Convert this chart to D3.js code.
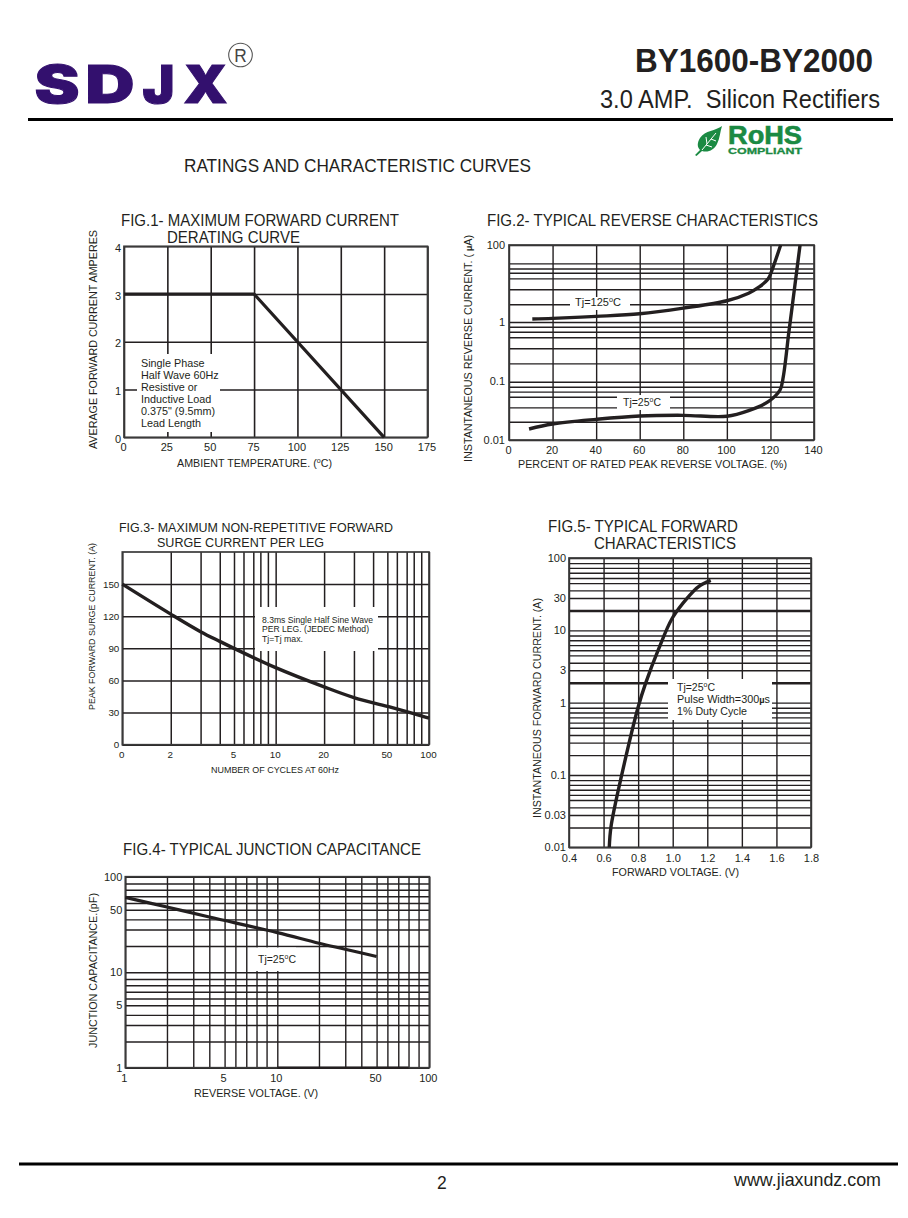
<!DOCTYPE html>
<html><head><meta charset="utf-8">
<script src="https://cdn.jsdelivr.net/npm/d3@7"></script>
<style>
html,body{margin:0;padding:0;background:#fff}
svg{display:block}
text{font-family:"Liberation Sans",Arial,sans-serif;fill:#231f20}
</style></head><body><div id="c"></div>
<script>
// ---------- data ----------
const paperMinor = [1.88,2.8,3.57,4.5,5.3,6.25,7.3,8.5];
const surgeMinor = [2.07,3.24,4.32,5.35,6.17,7.15,7.95,8.9];
const decades = (starts, minor) => starts.flatMap(s => [s, ...minor.map(m => s*m)]);

const fig1X = [0,25,50,75,100,125,150,175];
const fig1Y = [0,1,2,3,4];
const fig1Curve = [[0,3],[75,3],[150,0]];

const fig2X = [0,20,40,60,80,100,120,140];
const fig2YGrid = [100,33.3,24.6,19,13.6,7.06,2.88,1,0.834,0.688,0.554,0.363,0.203,0.1,0.082,0.0676,0.0553,0.0363,0.0206,0.01];
const fig2YTicks = [100,1,0.1,0.01];
const fig2YLabels = ["100","1","0.1","0.01"];
const fig2Hot = [[10.7,1.196],[20,1.24],[40,1.40],[60,1.64],[80,2.30],[100,3.56],[110,5.6],[114.5,7.9],[119,13.2],[121.3,27.5],[124.7,100]];
const fig2Cold = [[9.2,0.01545],[20,0.0188],[40,0.0226],[60,0.0258],[80,0.0265],[100,0.0255],[110,0.0318],[119,0.0454],[124.4,0.072],[125.9,0.121],[128.4,0.653],[129.07,1],[133.6,100]];

const fig3XGrid = decades([1,10], surgeMinor).concat([100]);
const fig3XTicks = [1,2.07,5.35,10,20.7,53.5,100];
const fig3XLabels = ["0","2","5","10","20","50","100"];
const fig3Y = [0,30,60,90,120,150];
const fig3Curve = [[1,150],[2.07,122],[3.24,105.6],[4.32,96.5],[5.35,90],[10,72],[20.7,54],[32.4,44],[53.5,35.8],[79.5,29],[100,24.8]];

const fig4XGrid = decades([1,10], paperMinor).concat([100]);
const fig4YGrid = fig4XGrid;
const fig4XTicks = [1,4.5,10,45,100];
const fig4XLabels = ["1","5","10","50","100"];
const fig4YTicks = [100,45,10,4.5,1];
const fig4YLabels = ["100","50","10","5","1"];
const fig4Curve = [[1,60.7],[1.88,48.1],[3.57,37.8],[10,26],[18.8,20.1],[28,17.4],[45,14.6]];

const fig5X = [0.4,0.6,0.8,1.0,1.2,1.4,1.6,1.8];
const fig5XLabels = ["0.4","0.6","0.8","1.0","1.2","1.4","1.6","1.8"];
const fig5YGrid = decades([0.01,0.1,1,10], paperMinor).concat([100]);
const fig5Heavy = [18.8,1.88];
const fig5YTicks = [100,28,10,2.8,1,0.1,0.028,0.01];
const fig5YLabels = ["100","30","10","3","1","0.1","0.03","0.01"];
const fig5Curve = [[0.633,0.01],[0.643,0.0193],[0.705,0.1],[0.801,0.885],[0.8435,1.86],[0.917,5.4],[0.998,14.8],[1.09,29],[1.148,40],[1.22,49]];

// ---------- helpers ----------
const svg = d3.select("#c").append("svg").attr("width",908).attr("height",1218);
const INK = "#231f20";
const smooth = d3.curveCatmullRom.alpha(0.5);

function label(parent, x, y, parts, size, len, opt={}){
  const t = parent.append("text").attr("x",x).attr("y",y).attr("font-size",size)
    .attr("xml:space","preserve").style("white-space","pre");
  if(opt.weight) t.attr("font-weight",opt.weight);
  if(opt.family) t.style("font-family",opt.family);
  if(opt.fill) t.style("fill",opt.fill);
  if(opt.rotate) t.attr("transform",`rotate(-90 ${x} ${y})`);
  if(len){ t.attr("textLength",len).attr("lengthAdjust","spacingAndGlyphs"); }
  (Array.isArray(parts)?parts:[parts]).forEach(p=>{
    if(typeof p==="string") t.append("tspan").text(p);
    else if(p.bold) t.append("tspan").attr("font-weight","bold").attr("font-size",size*0.85).text(p.t);
    else t.append("tspan").attr("dy",p.sup?-size*0.35:size*0.35).attr("font-size",p.sup?size*0.66:size).text(p.t);
  });
  return t;
}
const deg = [{t:"o",sup:true},{t:"C",sup:false}];
const micro = {t:"\u00B5",bold:true};

function chart(o){
  const g = svg.append("g");
  const xv = o.xv||(d=>d), yv = o.yv||(d=>d);
  const [x0,x1]=o.x.range(), y1=o.y.range()[0], y0=o.y.range()[o.y.range().length-1];
  const w=x1-x0, h=y1-y0;
  const gx=g.append("g").attr("transform",`translate(0,${y1})`)
    .call(d3.axisBottom(o.x).tickValues(o.xGrid.map(xv)).tickSize(-h).tickFormat(""));
  const gy=g.append("g").attr("transform",`translate(${x0},0)`)
    .call(d3.axisLeft(o.y).tickValues(o.yGrid.map(yv)).tickSize(-w).tickFormat(""));
  [gx,gy].forEach(a=>{a.select(".domain").remove();a.selectAll("line").attr("stroke",INK).attr("stroke-width",o.gridW||1.4);});
  if(o.heavy) gy.selectAll("line").filter(d=>o.heavy.some(v=>Math.abs(v-d)<1e-9)).attr("stroke-width",2.4);
  g.append("rect").attr("x",x0).attr("y",y0).attr("width",w).attr("height",h)
    .attr("fill","none").attr("stroke","#3a3a3a").attr("stroke-width",1.7);
  (o.boxes||[]).forEach(b=>g.append("rect").attr("x",b[0]).attr("y",b[1]).attr("width",b[2]-b[0]).attr("height",b[3]-b[1]).attr("fill","#fff"));
  (o.curves||[]).forEach(c=>{
    g.append("path").attr("fill","none").attr("stroke",INK).attr("stroke-width",c.w||3.4)
      .attr("stroke-linejoin","round")
      .attr("d",d3.line().x(d=>o.x(xv(d[0]))).y(d=>o.y(yv(d[1]))).curve(c.curve||smooth)(c.data));
  });
  const ax=g.append("g").attr("transform",`translate(${o.xShift||0},${y1})`)
    .call(d3.axisBottom(o.x).tickValues(o.xTicks.map(xv)).tickSize(0).tickPadding(o.xPad)
      .tickFormat((d,i)=>(o.xLabels||o.xTicks)[i]));
  const ay=g.append("g").attr("transform",`translate(${x0},${o.yShift||0})`)
    .call(d3.axisLeft(o.y).tickValues(o.yTicks.map(yv)).tickSize(0).tickPadding(o.yPad||3)
      .tickFormat((d,i)=>(o.yLabels||o.yTicks)[i]));
  [ax,ay].forEach(a=>{a.select(".domain").remove();a.selectAll("text").attr("font-size",o.tickSize)
    .attr("font-family",'"Liberation Sans",Arial,sans-serif').style("fill",INK);});
  return g;
}

// ---------- page furniture ----------
svg.append("rect").attr("width",908).attr("height",1218).attr("fill","#fff");
const purple="#33106e";
[["S",34,46],["D",85,50],["J",142,33],["X",183,45]].forEach(l=>{
  label(svg,l[1]+0.5,102.5,l[0],52,l[2]-1,{weight:900,fill:purple,family:"Inter,'Liberation Sans',sans-serif"})
    .style("stroke",purple).style("stroke-width",1).style("stroke-linejoin","miter");
});
svg.append("circle").attr("cx",240.5).attr("cy",55).attr("r",11.8).attr("fill","none").attr("stroke","#555").attr("stroke-width",1.1);
label(svg,234.3,62,"R",19,12.5,{fill:"#444"});

label(svg,635,71.5,"BY1600-BY2000",32.5,238,{weight:"bold"});
label(svg,600,108,"3.0 AMP.  Silicon Rectifiers",26,280);
svg.append("line").attr("x1",28).attr("x2",893).attr("y1",119.5).attr("y2",119.5).attr("stroke","#000").attr("stroke-width",3);

// RoHS mark
const green="#1b8a43";
svg.append("path").attr("fill",green).attr("d","M722,126 C716,131 705,130 700,138 C697,143 697,147 700,150 L695,155 L696.5,156 L702,151 C708,153 714,150 717,144 C720,138 720,132 722,126 Z");
svg.append("path").attr("fill","none").attr("stroke","#fff").attr("stroke-width",1).attr("d","M702,150 L716,133 M707,144 L706,137 M711,139 L716,141 M706,145 L712,147");
label(svg,728,144,"RoHS",25,74,{weight:"bold",fill:green}).style("stroke",green).style("stroke-width",0.6);
label(svg,728,153.5,"COMPLIANT",9,74,{weight:"bold",fill:green}).style("stroke",green).style("stroke-width",0.3);

label(svg,184,172,"RATINGS AND CHARACTERISTIC CURVES",18,347);

svg.append("line").attr("x1",19).attr("x2",898).attr("y1",1164).attr("y2",1164).attr("stroke","#000").attr("stroke-width",3);
label(svg,437,1189,"2",17.5);
label(svg,734,1186,"www.jiaxundz.com",18.5,147);

// ---------- FIG 1 ----------
chart({x:d3.scaleLinear().domain([0,175]).range([124,427.5]),
  y:d3.scaleLinear().domain([0,4]).range([437.3,246.3]),
  xGrid:fig1X,yGrid:fig1Y,xTicks:fig1X,yTicks:fig1Y,xPad:6,yPad:3,xShift:-1,yShift:1.5,tickSize:11,gridW:1.6,
  boxes:[[137,354,220,432]],
  curves:[{data:fig1Curve,curve:d3.curveLinear,w:3.2}]});
label(svg,121,226,"FIG.1- MAXIMUM FORWARD CURRENT",15.6,278);
label(svg,167,243,"DERATING CURVE",15.6,133);
label(svg,97,449,"AVERAGE FORWARD CURRENT AMPERES",11.5,219,{rotate:true});
label(svg,177,467,["AMBIENT TEMPERATURE. (",...deg,")"],10.8,155);
["Single Phase","Half Wave 60Hz","Resistive or","Inductive Load",'0.375" (9.5mm)',"Lead Length"].forEach((s,i)=>
  label(svg,141,367+i*12,s,10.8));

// ---------- FIG 2 ----------
chart({x:d3.scaleLinear().domain([0,140]).range([509,814]),
  y:d3.scaleLinear().domain([-2,-1,0,2]).range([440,381.7,322,245]),
  yv:Math.log10,
  xGrid:fig2X,yGrid:fig2YGrid,xTicks:fig2X,yTicks:fig2YTicks,yLabels:fig2YLabels,xPad:6,yPad:4,xShift:-1,yShift:-0.5,tickSize:11,
  boxes:[[570,297,630,310],[617,395,670,410]],
  curves:[{data:fig2Hot},{data:fig2Cold}]});
label(svg,487,226,"FIG.2- TYPICAL REVERSE CHARACTERISTICS",15.6,331);
label(svg,472,462,["INSTANTANEOUS REVERSE CURRENT. ( ",micro,"A)"],11.5,227,{rotate:true});
label(svg,518,468,"PERCENT OF RATED PEAK REVERSE VOLTAGE. (%)",10.8,269);
label(svg,575,306,["Tj=125",...deg],10.8,46);
label(svg,623,406,["Tj=25",...deg],10.8,38);

// ---------- FIG 3 ----------
chart({x:d3.scaleLog().domain([1,100]).range([122.3,429]),
  y:d3.scaleLinear().domain([0,180]).range([744.7,552]),
  xGrid:fig3XGrid,yGrid:fig3Y,xTicks:fig3XTicks,xLabels:fig3XLabels,yTicks:fig3Y,xPad:6,yPad:3,xShift:-1,tickSize:9.8,gridW:1.5,
  boxes:[[255,607,378,651]],
  curves:[{data:fig3Curve,w:3.4}]});
label(svg,119,532,"FIG.3- MAXIMUM NON-REPETITIVE FORWARD",13.4,274);
label(svg,157,547,"SURGE CURRENT PER LEG",13.4,167);
label(svg,95,710,"PEAK FORWARD SURGE CURRENT. (A)",9.3,167,{rotate:true});
label(svg,211,773,"NUMBER OF CYCLES AT 60Hz",9.2,128);
label(svg,262,623,"8.3ms Single Half Sine Wave",9,111);
label(svg,262,632,"PER LEG. (JEDEC Method)",9,107);
label(svg,262,642,"Tj=Tj max.",9,41);

// ---------- FIG 4 ----------
const x4=d3.scaleLog().domain([1,100]).range([125.3,429.3]);
const g4=chart({x:x4,y:d3.scaleLog().domain([1,100]).range([1067.7,876.7]),
  xGrid:fig4XGrid,yGrid:fig4YGrid,xTicks:fig4XTicks,xLabels:fig4XLabels,yTicks:fig4YTicks,yLabels:fig4YLabels,xPad:7,yPad:3,xShift:-1.5,tickSize:11,
  boxes:[[256,947.5,296,971]],
  curves:[{data:fig4Curve,w:3.2}]});
g4.append("line").attr("x1",x4(10)).attr("x2",x4(73)).attr("y1",1067.7).attr("y2",1067.7).attr("stroke",INK).attr("stroke-width",2.4);
label(svg,123,855,"FIG.4- TYPICAL JUNCTION CAPACITANCE",15.6,298);
label(svg,97,1048,"JUNCTION CAPACITANCE.(pF)",11.2,155,{rotate:true});
label(svg,194,1097,"REVERSE VOLTAGE. (V)",10.8,124);
label(svg,258,963,["Tj=25",...deg],10.8,38);

// ---------- FIG 5 ----------
chart({x:d3.scaleLinear().domain([0.4,1.8]).range([569,811]),
  y:d3.scaleLog().domain([0.01,100]).range([847.3,558]),
  xGrid:fig5X,yGrid:fig5YGrid,heavy:fig5Heavy,xTicks:fig5X,xLabels:fig5XLabels,yTicks:fig5YTicks,yLabels:fig5YLabels,xPad:7,yPad:3,tickSize:11,
  boxes:[[668,679,772,720]],
  curves:[{data:fig5Curve,w:3.4}]});
label(svg,548,532,"FIG.5- TYPICAL FORWARD",15.6,190);
label(svg,594,549,"CHARACTERISTICS",15.6,142);
label(svg,541,818,"INSTANTANEOUS FORWARD CURRENT. (A)",11.2,220,{rotate:true});
label(svg,612,876,"FORWARD VOLTAGE. (V)",10.8,127);
label(svg,677,691,["Tj=25",...deg],11,38);
label(svg,677,703,["Pulse Width=300",micro,"s"],11,93);
label(svg,677,715,"1% Duty Cycle",11,70);
</script></body></html>
